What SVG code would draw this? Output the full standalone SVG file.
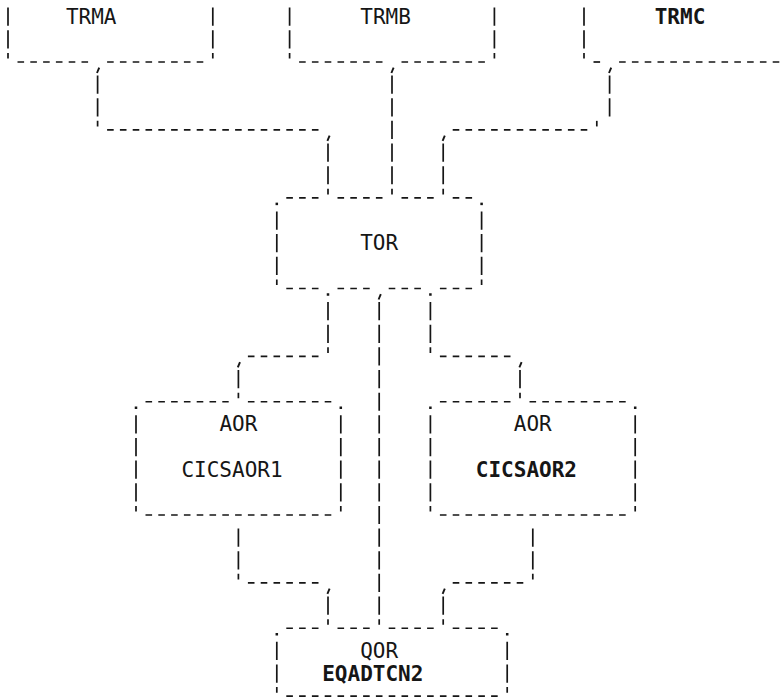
<svg xmlns="http://www.w3.org/2000/svg" xmlns:xlink="http://www.w3.org/1999/xlink" width="781" height="698" viewBox="0 0 781 698">
<style>
line{stroke:#161616;stroke-width:1.7;fill:none}
.h{stroke-dasharray:6.6 6.2}
.v{stroke-dasharray:18.2 4.45}
.c{stroke:#161616;stroke-width:1.9;fill:none}
.d{fill:#161616}
text{font-family:"DejaVu Sans Mono","Liberation Mono",monospace;font-size:21px;fill:#161616;text-anchor:middle}
.b{font-weight:bold}
</style>
<defs>
<path id="cm" class="c" d="M1.6,5.6 L-0.6,11"/>
<rect id="dt" class="d" x="-1.25" y="4.75" width="2.5" height="2.5"/>
</defs>
<rect width="781" height="698" fill="#ffffff"/>

<g id="connectors">
<!-- TRMA to TOR -->
<use href="#cm" x="97.6" y="62"/>
<line class="v" x1="97.6" y1="75.55" x2="97.6" y2="126.45"/>
<line class="h" x1="107.1" y1="129.95" x2="318.5" y2="129.95"/>
<use href="#cm" x="328" y="129.95"/>
<line class="v" x1="328" y1="143.5" x2="328" y2="194.4"/>
<!-- TRMB to TOR -->
<use href="#cm" x="392" y="62"/>
<line class="v" x1="392" y1="75.55" x2="392" y2="194.4"/>
<!-- TRMC to TOR -->
<use href="#cm" x="609.6" y="62"/>
<line class="v" x1="609.6" y1="75.55" x2="609.6" y2="116.4"/>
<line x1="596.8" y1="120.85" x2="596.8" y2="126.45"/>
<line class="h" x1="452.7" y1="129.95" x2="587.3" y2="129.95"/>
<use href="#cm" x="443.2" y="129.95"/>
<line class="v" x1="443.2" y1="143.5" x2="443.2" y2="194.4"/>
<!-- TOR to AOR1 -->
<use href="#dt" x="328" y="288.5"/>
<line class="v" x1="328" y1="302.05" x2="328" y2="352.95"/>
<line class="h" x1="247.9" y1="356.45" x2="318.5" y2="356.45"/>
<use href="#cm" x="238.4" y="356.45"/>
<line class="v" x1="238.4" y1="370" x2="238.4" y2="398.25"/>
<!-- TOR to QOR -->
<use href="#cm" x="379.2" y="288.5"/>
<line class="v" x1="379.2" y1="302.05" x2="379.2" y2="624.75"/>
<!-- TOR to AOR2 -->
<use href="#dt" x="430.4" y="288.5"/>
<line class="v" x1="430.4" y1="302.05" x2="430.4" y2="352.95"/>
<line class="h" x1="439.9" y1="356.45" x2="510.5" y2="356.45"/>
<use href="#cm" x="520" y="356.45"/>
<line class="v" x1="520" y1="370" x2="520" y2="398.25"/>
<!-- AOR1 to QOR -->
<line class="v" x1="238.4" y1="528.55" x2="238.4" y2="579.45"/>
<line class="h" x1="247.9" y1="582.95" x2="318.5" y2="582.95"/>
<use href="#cm" x="328" y="582.95"/>
<line class="v" x1="328" y1="596.5" x2="328" y2="624.75"/>
<!-- AOR2 to QOR -->
<line class="v" x1="532.8" y1="528.55" x2="532.8" y2="579.45"/>
<line class="h" x1="452.7" y1="582.95" x2="523.3" y2="582.95"/>
<use href="#cm" x="443.2" y="582.95"/>
<line class="v" x1="443.2" y1="596.5" x2="443.2" y2="624.75"/>
</g>

<g id="trma">
<line class="v" x1="8" y1="7.6" x2="8" y2="58.5"/>
<line class="v" x1="212.8" y1="7.6" x2="212.8" y2="58.5"/>
<line class="h" x1="17.5" y1="62" x2="88.1" y2="62"/>
<line class="h" x1="107.1" y1="62" x2="203.3" y2="62"/>
<text x="91.2" y="23.7">TRMA</text>
</g>

<g id="trmb">
<line class="v" x1="289.6" y1="7.6" x2="289.6" y2="58.5"/>
<line class="v" x1="494.4" y1="7.6" x2="494.4" y2="58.5"/>
<line class="h" x1="299.1" y1="62" x2="382.5" y2="62"/>
<line class="h" x1="401.5" y1="62" x2="484.9" y2="62"/>
<text x="385.6" y="23.7">TRMB</text>
</g>

<g id="trmc">
<line class="v" x1="584" y1="7.6" x2="584" y2="58.5"/>
<line class="h" x1="593.5" y1="62" x2="600.1" y2="62"/>
<line class="h" x1="619.1" y1="62" x2="779.3" y2="62"/>
<text class="b" x="680" y="23.7">TRMC</text>
</g>

<g id="tor">
<use href="#dt" x="276.8" y="197.9"/>
<use href="#dt" x="481.6" y="197.9"/>
<line class="h" x1="286.3" y1="197.9" x2="318.5" y2="197.9"/>
<line class="h" x1="337.5" y1="197.9" x2="382.5" y2="197.9"/>
<line class="h" x1="401.5" y1="197.9" x2="433.7" y2="197.9"/>
<line class="h" x1="452.7" y1="197.9" x2="472.1" y2="197.9"/>
<line class="v" x1="276.8" y1="211.45" x2="276.8" y2="285"/>
<line class="v" x1="481.6" y1="211.45" x2="481.6" y2="285"/>
<line class="h" x1="286.3" y1="288.5" x2="318.5" y2="288.5"/>
<line class="h" x1="337.5" y1="288.5" x2="369.7" y2="288.5"/>
<line class="h" x1="388.7" y1="288.5" x2="420.9" y2="288.5"/>
<line class="h" x1="439.9" y1="288.5" x2="472.1" y2="288.5"/>
<text x="379.2" y="250.2">TOR</text>
</g>

<g id="aor1">
<use href="#dt" x="136" y="401.75"/>
<use href="#dt" x="340.8" y="401.75"/>
<line class="h" x1="145.5" y1="401.75" x2="228.7" y2="401.75"/>
<line class="h" x1="247.9" y1="401.75" x2="331.3" y2="401.75"/>
<line class="v" x1="136" y1="415.3" x2="136" y2="511.5"/>
<line class="v" x1="340.8" y1="415.3" x2="340.8" y2="511.5"/>
<line class="h" x1="145.5" y1="515" x2="331.3" y2="515"/>
<text x="238.4" y="431.4">AOR</text>
<text x="232" y="476.7">CICSAOR1</text>
</g>

<g id="aor2">
<use href="#dt" x="430.4" y="401.75"/>
<use href="#dt" x="635.2" y="401.75"/>
<line class="h" x1="439.9" y1="401.75" x2="510.5" y2="401.75"/>
<line class="h" x1="529.5" y1="401.75" x2="625.7" y2="401.75"/>
<line class="v" x1="430.4" y1="415.3" x2="430.4" y2="511.5"/>
<line class="v" x1="635.2" y1="415.3" x2="635.2" y2="511.5"/>
<line class="h" x1="439.9" y1="515" x2="625.7" y2="515"/>
<text x="532.8" y="431.4">AOR</text>
<text class="b" x="526.4" y="476.7">CICSAOR2</text>
</g>

<g id="qor">
<use href="#dt" x="276.8" y="628.25"/>
<use href="#dt" x="507.2" y="628.25"/>
<line class="h" x1="286.3" y1="628.25" x2="318.5" y2="628.25"/>
<line class="h" x1="337.5" y1="628.25" x2="369.7" y2="628.25"/>
<line class="h" x1="388.7" y1="628.25" x2="433.7" y2="628.25"/>
<line class="h" x1="452.7" y1="628.25" x2="497.7" y2="628.25"/>
<line class="v" x1="276.8" y1="641.8" x2="276.8" y2="692.7"/>
<line class="v" x1="507.2" y1="641.8" x2="507.2" y2="692.7"/>
<line class="h" x1="286.3" y1="696.2" x2="497.7" y2="696.2"/>
<text x="379.2" y="657.9">QOR</text>
<text class="b" x="372.8" y="680.55">EQADTCN2</text>
</g>
</svg>
